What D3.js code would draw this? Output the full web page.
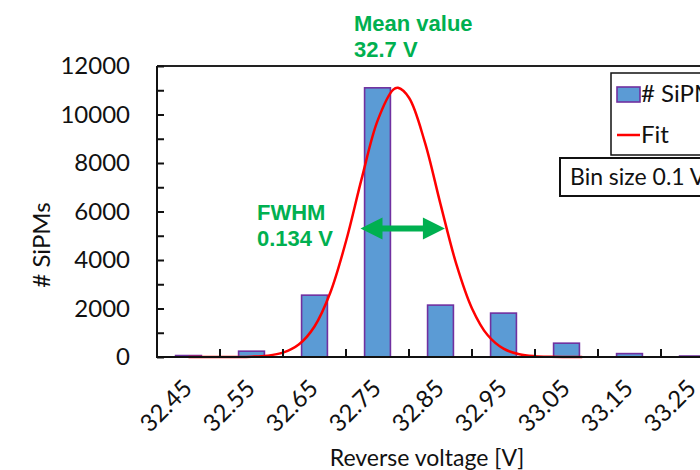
<!DOCTYPE html>
<html>
<head>
<meta charset="utf-8">
<script src="https://cdn.jsdelivr.net/npm/d3@7"></script>
<style>
  html, body { margin: 0; padding: 0; background: #fff; }
  svg { display: block; }
</style>
</head>
<body>
<svg id="chart" width="700" height="470"></svg>
<script>
// Histogram bins (centre voltage labels) and counts
const binLabels = ["32.45", "32.55", "32.65", "32.75", "32.85", "32.95", "33.05", "33.15", "33.25"];
const binCounts = [60, 240, 2550, 11100, 2140, 1810, 570, 140, 40];

// Gaussian fit curve sampled along the voltage axis
const fitVoltage = [32.45, 32.475, 32.5, 32.525, 32.55, 32.575, 32.6, 32.625, 32.65, 32.675, 32.7, 32.725, 32.75, 32.775, 32.7825,
                    32.8, 32.825, 32.85, 32.875, 32.9, 32.925, 32.95, 32.975, 33.0, 33.025, 33.05, 33.075];
const fitCount   = [0, 0, 1, 3, 14, 53, 179, 512, 1259, 2649, 4773, 7366, 9735, 11023, 11100,
                    10690, 8873, 6306, 3841, 2004, 894, 342, 112, 31, 8, 2, 0];

const yTicks = [0, 2000, 4000, 6000, 8000, 10000, 12000];
const yMinorTicks = d3.range(0, 12001, 1000);

// Annotations
const meanLabel = ["Mean value", "32.7 V"];
const fwhmLabel = ["FWHM", "0.134 V"];
const fwhmWidth = 0.134;      // V
const fwhmCentre = 32.79;     // V
const fwhmLevel = 5300;       // counts
const binSizeLabel = "Bin size 0.1 V";
const legendItems = ["# SiPMs", "Fit"];

const svg = d3.select("#chart");
const W = 700, H = 470;
const plot = { left: 157, top: 66, right: 724, bottom: 357 };

const x = d3.scaleBand().domain(binLabels)
  .range([plot.left, plot.right]).paddingInner(0.59).paddingOuter(0.295);
const step = x.step();
const xv = d3.scaleLinear()
  .domain([32.45 - 0.05, 32.45 - 0.05 + binLabels.length * 0.1])
  .range([plot.left, plot.right]);
const y = d3.scaleLinear().domain([0, 12000]).range([plot.bottom, plot.top]);

const green = "#00B050";
const labelFont = "Lato, 'Open Sans', sans-serif";

svg.append("defs").append("clipPath").attr("id", "clipAll")
  .append("rect").attr("x", 0).attr("y", 0).attr("width", W).attr("height", H);

const g = svg.append("g").attr("clip-path", "url(#clipAll)");

// Bars
g.append("g").selectAll("rect").data(binLabels).join("rect")
  .attr("x", d => x(d))
  .attr("y", (d, i) => y(binCounts[i]))
  .attr("width", x.bandwidth())
  .attr("height", (d, i) => y(0) - y(binCounts[i]))
  .attr("fill", "#5B9BD5")
  .attr("stroke", "#7030A0")
  .attr("stroke-width", 1.6);

// Fit curve
const line = d3.line()
  .x((d, i) => xv(fitVoltage[i]))
  .y((d, i) => y(fitCount[i]))
  .curve(d3.curveCatmullRom);
g.append("path").datum(fitCount)
  .attr("d", line)
  .attr("fill", "none")
  .attr("stroke", "#FF0000")
  .attr("stroke-width", 2.5);

// Plot frame: top line
g.append("line")
  .attr("x1", plot.left).attr("x2", plot.right)
  .attr("y1", plot.top).attr("y2", plot.top)
  .attr("stroke", "#222").attr("stroke-width", 2);

// Y axis with inward ticks every 1000 and labels every 2000
const yAxis = g.append("g").attr("transform", `translate(${plot.left},0)`)
  .call(d3.axisRight(y).tickValues(yMinorTicks).tickSize(7).tickFormat(""));
yAxis.select(".domain").attr("stroke", "#111").attr("stroke-width", 2).attr("d", `M0,${plot.top}V${plot.bottom}`);
yAxis.selectAll(".tick line").attr("stroke", "#111").attr("stroke-width", 2);

g.append("g").selectAll("text").data(yTicks).join("text")
  .attr("x", 130)
  .attr("y", d => y(d))
  .attr("dy", "0.35em")
  .attr("text-anchor", "end")
  .attr("font-family", labelFont)
  .attr("font-size", 24)
  .attr("fill", "#111")
  .text(d => d);

// X axis: inward ticks at bin boundaries
const boundaries = d3.range(1, binLabels.length).map(i => plot.left + i * step);
const xAxis = g.append("g");
xAxis.append("line")
  .attr("x1", plot.left - 1).attr("x2", plot.right)
  .attr("y1", plot.bottom).attr("y2", plot.bottom)
  .attr("stroke", "#111").attr("stroke-width", 2);
xAxis.selectAll("line.tk").data(boundaries).join("line")
  .attr("class", "tk")
  .attr("x1", d => d).attr("x2", d => d)
  .attr("y1", plot.bottom).attr("y2", plot.bottom - 8)
  .attr("stroke", "#111").attr("stroke-width", 2);

xAxis.selectAll("text").data(binLabels).join("text")
  .attr("transform", d => `translate(${x(d) + x.bandwidth() / 2 + 5},${plot.bottom + 33}) rotate(-45)`)
  .attr("text-anchor", "end")
  .attr("font-family", labelFont)
  .attr("font-size", 24)
  .attr("fill", "#111")
  .text(d => d);

// Axis titles
g.append("text")
  .attr("x", 427).attr("y", 466)
  .attr("text-anchor", "middle")
  .attr("font-family", labelFont)
  .attr("font-size", 23)
  .attr("fill", "#111")
  .text("Reverse voltage [V]");

g.append("text")
  .attr("transform", "translate(50,245) rotate(-90)")
  .attr("text-anchor", "middle")
  .attr("font-family", labelFont)
  .attr("font-size", 24)
  .attr("fill", "#111")
  .text("# SiPMs");

// FWHM double arrow
const ax1 = xv(fwhmCentre - fwhmWidth / 2), ax2 = xv(fwhmCentre + fwhmWidth / 2), ay = y(fwhmLevel);
const head = 22, halfH = 11, shaft = 3;
g.append("path")
  .attr("d", `M${ax1},${ay} L${ax1 + head},${ay - halfH} L${ax1 + head},${ay - shaft} L${ax2 - head},${ay - shaft}
              L${ax2 - head},${ay - halfH} L${ax2},${ay} L${ax2 - head},${ay + halfH} L${ax2 - head},${ay + shaft}
              L${ax1 + head},${ay + shaft} L${ax1 + head},${ay + halfH} Z`)
  .attr("fill", green);

// Green annotations
const annot = (lines, x0, y0) => {
  const t = g.append("text")
    .attr("font-family", "'Liberation Sans', Arial, sans-serif")
    .attr("font-weight", "bold")
    .attr("font-size", 22)
    .attr("fill", green);
  lines.forEach((s, i) => t.append("tspan").attr("x", x0).attr("y", y0 + i * 26).text(s));
};
annot(meanLabel, 354, 31);
annot(fwhmLabel, 257, 220);

// Legend
const lg = g.append("g");
lg.append("rect").attr("x", 611).attr("y", 73).attr("width", 120).attr("height", 82)
  .attr("fill", "#fff").attr("stroke", "#111").attr("stroke-width", 1.5);
lg.append("rect").attr("x", 617).attr("y", 87).attr("width", 23).attr("height", 15)
  .attr("fill", "#5B9BD5").attr("stroke", "#7030A0").attr("stroke-width", 1.6);
lg.append("line").attr("x1", 617).attr("x2", 640).attr("y1", 135).attr("y2", 135)
  .attr("stroke", "#FF0000").attr("stroke-width", 2.5);
lg.selectAll("text").data(legendItems).join("text")
  .attr("x", 641).attr("y", (d, i) => [102, 143][i])
  .attr("font-family", labelFont)
  .attr("font-size", 24)
  .attr("fill", "#111")
  .text(d => d);

// Bin size box
const bb = g.append("g");
bb.append("rect").attr("x", 560).attr("y", 158).attr("width", 160).attr("height", 38)
  .attr("fill", "#fff").attr("stroke", "#111").attr("stroke-width", 2);
bb.append("text").attr("x", 570).attr("y", 185)
  .attr("font-family", labelFont)
  .attr("font-size", 23)
  .attr("fill", "#111")
  .text(binSizeLabel);
</script>
</body>
</html>
